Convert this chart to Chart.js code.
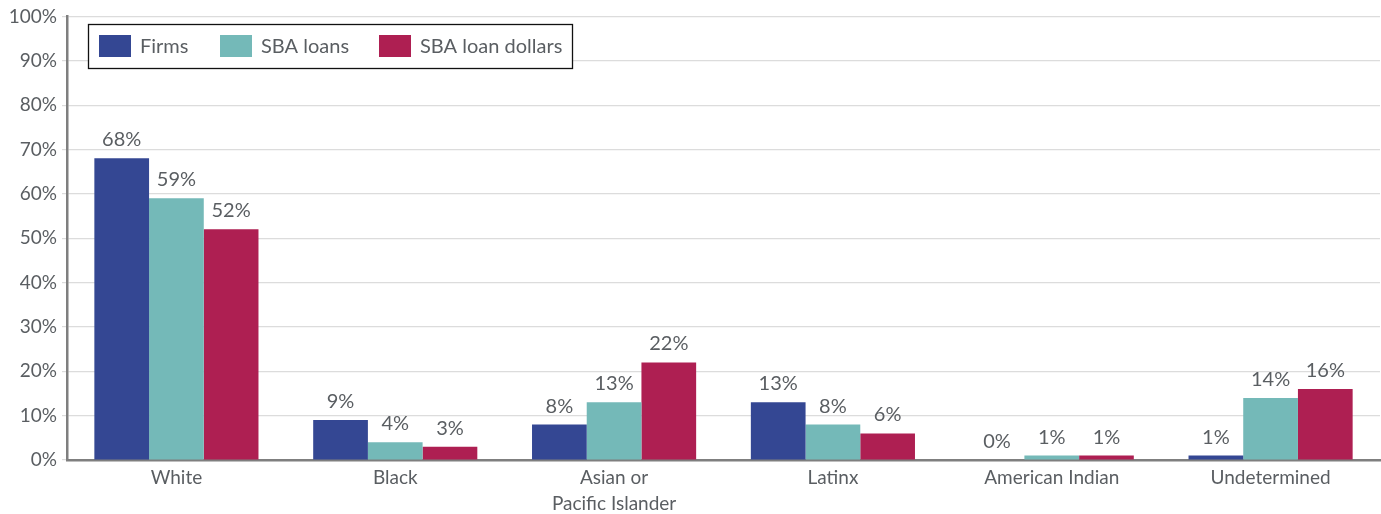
<!DOCTYPE html>
<html>
<head>
<meta charset="utf-8">
<script src="https://cdn.jsdelivr.net/npm/chart.js@4/dist/chart.umd.min.js"></script>
<style>
  html, body { margin: 0; padding: 0; background: #fff; }
  #wrap { width: 1381px; height: 514px; position: relative; }
</style>
</head>
<body>
<div id="wrap"><canvas id="shareChart"></canvas></div>
<script>
// shares by race/ethnicity, percent
const categories = ['White', 'Black', ['Asian or', 'Pacific Islander'], 'Latinx', 'American Indian', 'Undetermined'];
const firms = [68, 9, 8, 13, 0, 1];
const sbaLoans = [59, 4, 13, 8, 1, 14];
const sbaLoanDollars = [52, 3, 22, 6, 1, 16];
const yTicks = [0, 10, 20, 30, 40, 50, 60, 70, 80, 90, 100];

const textGrey = '#5a5e62';
const fontFamily = 'Lato, "DejaVu Sans", sans-serif';

// value labels over each bar
const barLabels = {
    id: 'barLabels',
    afterDatasetsDraw(chart) {
        const ctx = chart.ctx;
        ctx.save();
        ctx.font = '20px ' + fontFamily;
        ctx.fillStyle = textGrey;
        ctx.textAlign = 'center';
        ctx.textBaseline = 'alphabetic';
        chart.data.datasets.forEach((ds, i) => {
            chart.getDatasetMeta(i).data.forEach((bar, j) => {
                ctx.fillText(ds.data[j] + '%', bar.x, bar.y - 12);
            });
        });
        ctx.restore();
    }
};

// boxed legend in the upper left
const boxLegend = {
    id: 'boxLegend',
    afterDraw(chart) {
        const ctx = chart.ctx;
        const x0 = 88, y0 = 24, w = 484, h = 44;
        ctx.save();
        ctx.fillStyle = '#fff';
        ctx.fillRect(x0, y0, w, h);
        ctx.strokeStyle = '#111';
        ctx.lineWidth = 1.3;
        ctx.strokeRect(x0 + 0.5, y0 + 0.5, w, h);
        ctx.font = '20px ' + fontFamily;
        ctx.textBaseline = 'middle';
        const starts = [99, 220, 379];
        chart.data.datasets.forEach((ds, i) => {
            const sx = starts[i];
            ctx.fillStyle = ds.backgroundColor;
            ctx.fillRect(sx, 35, 32, 22);
            ctx.fillStyle = textGrey;
            ctx.fillText(ds.label, sx + 41, 47);
        });
        ctx.restore();
    }
};

new Chart(document.getElementById('shareChart'), {
    type: 'bar',
    data: {
        labels: categories,
        datasets: [
            { label: 'Firms', data: firms, backgroundColor: '#344793' },
            { label: 'SBA loans', data: sbaLoans, backgroundColor: '#74b9b8' },
            { label: 'SBA loan dollars', data: sbaLoanDollars, backgroundColor: '#ae1f52' }
        ]
    },
    options: {
        responsive: true,
        maintainAspectRatio: false,
        animation: false,
        layout: { padding: { top: 15, right: 1, left: 0, bottom: 0 } },
        datasets: { bar: { barPercentage: 1, categoryPercentage: 0.75 } },
        plugins: { legend: { display: false }, tooltip: { enabled: false } },
        scales: {
            x: {
                grid: { display: false, drawTicks: false },
                border: { color: '#7f7f7f', width: 2.5 },
                ticks: { color: textGrey, font: { family: fontFamily, size: 19, lineHeight: 1.35 }, padding: 5, maxRotation: 0 },
                afterFit(scale) { scale.height = 54; }
            },
            y: {
                min: 0,
                max: 100,
                afterBuildTicks(scale) { scale.ticks = yTicks.map(v => ({ value: v })); },
                grid: { color: '#dcdcdc', lineWidth: 1.2, tickLength: 5 },
                border: { color: '#7f7f7f', width: 2.5 },
                ticks: { color: textGrey, font: { family: fontFamily, size: 19 }, padding: 5, callback: v => v + '%' },
                afterFit(scale) { scale.width = 67; }
            }
        }
    },
    plugins: [barLabels, boxLegend]
});
</script>
</body>
</html>
